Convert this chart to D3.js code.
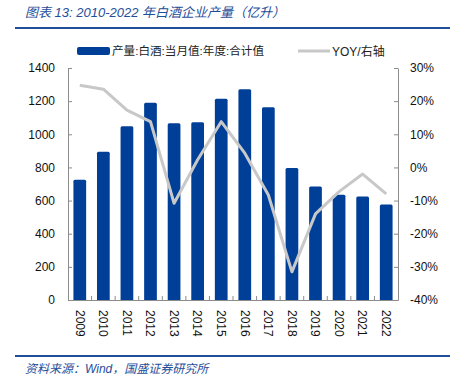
<!DOCTYPE html>
<html>
<head>
<meta charset="utf-8">
<script src="https://cdn.jsdelivr.net/npm/d3@7"></script>
<style>
  body { margin: 0; background: #fff; }
  svg text { font-family: "Liberation Sans", "Noto Sans CJK SC", sans-serif; }
</style>
</head>
<body>
<div id="chart"></div>
<script>
var years = ["2009","2010","2011","2012","2013","2014","2015","2016","2017","2018","2019","2020","2021","2022"];
var output = [726, 894, 1049, 1191, 1067, 1073, 1215, 1272, 1163, 796, 685, 635, 625, 577];
var yoy = [24.8, 23.6, 17.3, 13.8, -10.8, 2.3, 13.8, 4.3, -8.3, -31.5, -14.0, -7.3, -2.0, -8.0];
var leftTicks = [0, 200, 400, 600, 800, 1000, 1200, 1400];
var rightTicks = [-40, -30, -20, -10, 0, 10, 20, 30];

var width = 452,
    height = 379,
    margin = {top: 68, right: 54, bottom: 79, left: 68};

var blue = "#003F98", gray = "#C8C8C8", axisColor = "#8C8C8C", navy = "#1F4E9A";

var svg = d3.select("#chart").append("svg")
    .attr("width", width)
    .attr("height", height);

// title
svg.append("text")
    .attr("x", 25).attr("y", 17)
    .attr("font-size", 13).attr("font-style", "italic")
    .attr("fill", navy)
    .text("图表 13:  2010-2022 年白酒企业产量（亿升）");
svg.append("line")
    .attr("x1", 15).attr("x2", 450).attr("y1", 28).attr("y2", 28)
    .attr("stroke", navy).attr("stroke-width", 2);

// legend
svg.append("rect")
    .attr("x", 77).attr("y", 47).attr("width", 33).attr("height", 8).attr("rx", 2)
    .attr("fill", blue);
svg.append("text")
    .attr("x", 112).attr("y", 55).attr("font-size", 11.6).attr("fill", "#222")
    .text("产量:白酒:当月值:年度:合计值");
svg.append("line")
    .attr("x1", 298).attr("x2", 330).attr("y1", 51).attr("y2", 51)
    .attr("stroke", gray).attr("stroke-width", 3);
svg.append("text")
    .attr("x", 332).attr("y", 55.5).attr("font-size", 12).attr("fill", "#222")
    .text("YOY/右轴");

var g = svg.append("g")
    .attr("transform", `translate(${margin.left},${margin.top})`);

var innerW = width - margin.left - margin.right,
    innerH = height - margin.top - margin.bottom;

var x = d3.scaleBand().domain(years).range([0, innerW]).paddingInner(0.46).paddingOuter(0.23);
var xb = d3.scaleBand().domain(years).range([0, innerW]);
var y = d3.scaleLinear().domain([0, 1400]).range([innerH, 0]);
var y2 = d3.scaleLinear().domain([-40, 30]).range([innerH, 0]);

// bars
g.selectAll(".bar")
    .data(output)
    .enter().append("rect")
    .attr("class", "bar")
    .attr("x", (d, i) => x(years[i]))
    .attr("y", d => y(d))
    .attr("width", x.bandwidth())
    .attr("height", d => innerH - y(d) + 1)
    .attr("rx", 1.5)
    .attr("fill", blue);

// yoy line
var line = d3.line()
    .x((d, i) => xb(years[i]) + xb.bandwidth() / 2)
    .y(d => y2(d));
g.append("path")
    .datum(yoy)
    .attr("d", line)
    .attr("fill", "none")
    .attr("stroke", gray)
    .attr("stroke-width", 3)
    .attr("stroke-linejoin", "round");

// left axis
var yAxis = d3.axisLeft(y).tickValues(leftTicks).tickFormat(d3.format("d"))
    .tickSizeInner(-4).tickSizeOuter(0).tickPadding(13);
var ga = g.append("g").attr("class", "y axis").call(yAxis);

// right axis
var yAxis2 = d3.axisRight(y2).tickValues(rightTicks).tickFormat(d => d + "%")
    .tickSizeInner(-4).tickSizeOuter(0).tickPadding(12);
var gb = g.append("g").attr("class", "y2 axis")
    .attr("transform", `translate(${innerW},0)`)
    .call(yAxis2);

// bottom axis
var xAxis = d3.axisBottom(xb).tickSize(0).tickSizeOuter(0).tickPadding(0);
var gc = g.append("g").attr("class", "x axis")
    .attr("transform", `translate(0,${innerH})`)
    .call(xAxis);
gc.selectAll(".tick text")
    .attr("transform", "rotate(90)")
    .attr("x", 10).attr("y", 0).attr("dy", "0.35em")
    .attr("text-anchor", "start");
g.append("g").selectAll("line")
    .data(years.slice(1))
    .enter().append("line")
    .attr("x1", d => xb(d)).attr("x2", d => xb(d))
    .attr("y1", innerH - 4).attr("y2", innerH)
    .attr("stroke", axisColor);

[ga, gb, gc].forEach(a => {
    a.selectAll(".domain").attr("stroke", axisColor);
    a.selectAll(".tick line").attr("stroke", axisColor);
    a.selectAll(".tick text").attr("font-size", 12).attr("fill", "#111")
        .style("font-family", "'Liberation Sans', sans-serif");
});

// footer
svg.append("line")
    .attr("x1", 15).attr("x2", 450).attr("y1", 356).attr("y2", 356)
    .attr("stroke", navy).attr("stroke-width", 2);
svg.append("text")
    .attr("x", 25).attr("y", 373)
    .attr("font-size", 12).attr("font-style", "italic")
    .attr("fill", navy)
    .text("资料来源：Wind，国盛证券研究所");
</script>
</body>
</html>
